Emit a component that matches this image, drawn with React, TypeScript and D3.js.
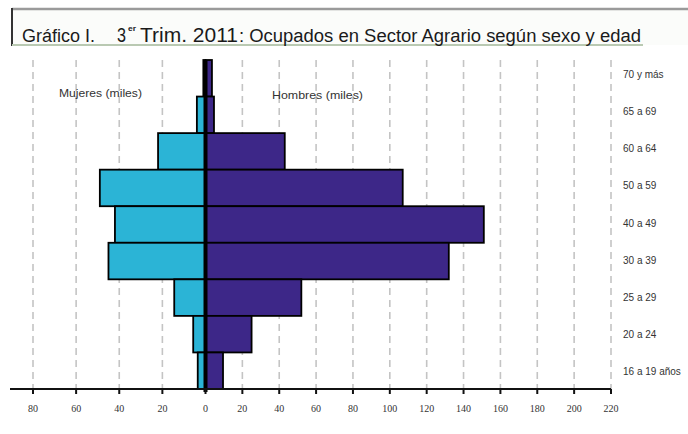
import React from "react";
import * as d3 from "d3";

const categories = ["70 y más", "65 a 69", "60 a 64", "50 a 59", "40 a 49", "30 a 39", "25 a 29", "20 a 24", "16 a 19 años"];
const mujeres = [1, 4, 22, 49, 42, 45, 14.5, 5.7, 3.6];
const hombres = [3.5, 4.6, 43, 107, 151, 132, 52, 25, 9.5];
const leftTicks = [80, 60, 40, 20];
const rightTicks = [0, 20, 40, 60, 80, 100, 120, 140, 160, 180, 200, 220];

const W = 688;
const H = 434;
const narrow = "'Liberation Sans Narrow', 'Arial Narrow', 'Liberation Sans', Arial, sans-serif";

export default function App() {
  const zeroX = 205.5;
  const axisY = 389;
  const y = d3.scaleBand<string>().domain(categories).range([60, axisY]).padding(0);
  const xR = d3.scaleLinear().domain([0, 220]).range([zeroX, 611]);
  const xL = d3.scaleLinear().domain([0, 80]).range([zeroX, 33]);
  const cyan = "#2bb4d6";
  const navy = "#3d2788";

  return (
    <svg width={W} height={H} style={{ position: "absolute", left: 0, top: 0, background: "#fff" }}>
      {/* title frame */}
      <rect x={12} y={9} width={W - 12} height={36} fill="#fbfcfa" />
      <line x1={12} y1={9} x2={W} y2={9} stroke="#9a9a9a" strokeWidth={2.5} />
      <line x1={12} y1={8} x2={12} y2={46} stroke="#333" strokeWidth={2} />
      <line x1={12} y1={45} x2={643} y2={45} stroke="#b9c9b2" strokeWidth={2} />
      <text x={22} y={42} fontFamily={narrow} fontSize={18} fill="#1a1a1a" textLength={73} lengthAdjust="spacingAndGlyphs">Gráfico I.</text>
      <text x={117} y={42} fontFamily={narrow} fontSize={20} fill="#1a1a1a" textLength={9} lengthAdjust="spacingAndGlyphs">3</text>
      <text x={128} y={31} fontFamily={narrow} fontSize={8} fontWeight="bold" fill="#1a1a1a" textLength={8} lengthAdjust="spacingAndGlyphs">er</text>
      <text x={140} y={42} fontFamily={narrow} fontSize={21} fill="#1a1a1a" textLength={98} lengthAdjust="spacingAndGlyphs">Trim. 2011</text>
      <text x={239} y={42} fontFamily={narrow} fontSize={18} fill="#1a1a1a" textLength={402} lengthAdjust="spacingAndGlyphs">: Ocupados en Sector Agrario según sexo y edad</text>

      {/* grid lines */}
      {leftTicks.map((t) => (
        <line key={"gl" + t} x1={xL(t)} x2={xL(t)} y1={60} y2={axisY} stroke="#c4c4c4" strokeWidth={1.6} strokeDasharray="7 5" />
      ))}
      {rightTicks.filter((t) => t > 0).map((t) => (
        <line key={"gr" + t} x1={xR(t)} x2={xR(t)} y1={60} y2={axisY} stroke="#c4c4c4" strokeWidth={1.6} strokeDasharray="7 5" />
      ))}

      {/* bars */}
      {categories.map((c, i) => (
        <rect key={"m" + c} x={xL(mujeres[i])} y={y(c)!} width={zeroX - xL(mujeres[i])} height={y.bandwidth()} fill={cyan} stroke="#000" strokeWidth={1.8} />
      ))}
      {categories.map((c, i) => (
        <rect key={"h" + c} x={zeroX} y={y(c)!} width={xR(hombres[i]) - zeroX} height={y.bandwidth()} fill={navy} stroke="#000" strokeWidth={1.8} />
      ))}
      <line x1={zeroX} x2={zeroX} y1={60} y2={axisY + 3} stroke="#000" strokeWidth={4} />

      {/* axis */}
      <line x1={10} x2={611} y1={axisY} y2={axisY} stroke="#111" strokeWidth={2} />
      {leftTicks.map((t) => (
        <g key={"tl" + t}>
          <line x1={xL(t)} x2={xL(t)} y1={axisY} y2={axisY + 5} stroke="#111" strokeWidth={2} />
          <text x={xL(t)} y={412} textAnchor="middle" fontFamily="'Liberation Serif', 'Times New Roman', serif" fontSize={10} fill="#333">{t}</text>
        </g>
      ))}
      {rightTicks.map((t) => (
        <g key={"tr" + t}>
          <line x1={xR(t)} x2={xR(t)} y1={axisY} y2={axisY + 5} stroke="#111" strokeWidth={2} />
          <text x={xR(t)} y={412} textAnchor="middle" fontFamily="'Liberation Serif', 'Times New Roman', serif" fontSize={10} fill="#333">{t}</text>
        </g>
      ))}

      {/* category labels */}
      {categories.map((c, i) => (
        <text key={"cl" + c} x={623} y={(y(c)! + y.bandwidth() / 2) - 3 + i * 0.6} dominantBaseline="middle" fontFamily={narrow} fontSize={10} fill="#333">{c}</text>
      ))}

      <text x={59} y={97} fontFamily={narrow} fontSize={11} fill="#333" textLength={83} lengthAdjust="spacingAndGlyphs">Mujeres (miles)</text>
      <text x={272} y={99} fontFamily={narrow} fontSize={11} fill="#333" textLength={91} lengthAdjust="spacingAndGlyphs">Hombres (miles)</text>
    </svg>
  );
}
